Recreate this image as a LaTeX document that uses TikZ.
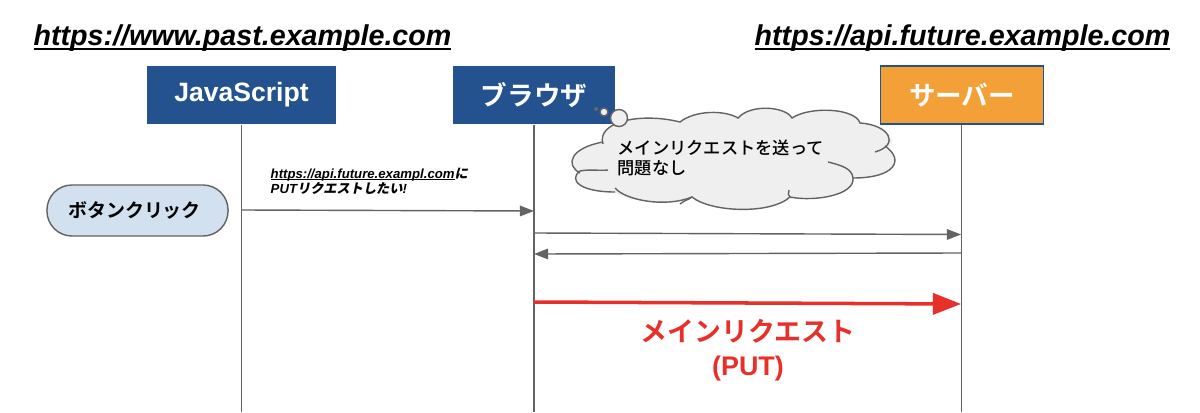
\documentclass[tikz,border=0pt]{standalone}
\usepackage{fontspec}
\setmainfont{Liberation Sans}
\newfontfamily\cjk[BoldFont={Noto Sans CJK JP Bold}]{Noto Sans CJK JP Medium}
\newfontfamily\cjkslant[FakeSlant=0.2]{Noto Sans CJK JP Bold}
\usetikzlibrary{arrows.meta}
\usetikzlibrary{positioning}
\definecolor{boxblue}{HTML}{23528F}
\definecolor{boxorange}{HTML}{F2A037}
\definecolor{pillblue}{HTML}{D2E0F0}
\definecolor{linegray}{HTML}{636363}
\definecolor{cloudgray}{HTML}{EFEFEF}
\definecolor{alertred}{HTML}{E8302A}
\newlength{\linkwidth}
\newcommand{\linktext}[1]{\leavevmode\settowidth{\linkwidth}{#1}\rlap{#1}\rule[-0.13em]{\linkwidth}{0.07em}}
\tikzset{actor/.style = {minimum height=0.58cm, minimum width=1.62cm, inner sep=0pt,
                         text=white, font=\fontsize{7.55}{10}\selectfont\bfseries},
         origin/.style = {inner sep=0pt, font=\fontsize{8.15}{9}\selectfont\bfseries\itshape},
         life/.style = {draw=linegray, line width=0.4pt},
         msg/.style = {draw=linegray, line width=0.4pt, -{Triangle[length=4pt,width=3pt]}},
         puff/.style = {draw=linegray, line width=0.4pt}}

\begin{document}
\begin{tikzpicture}[x=0.01cm, y=-0.01cm]
    \useasboundingbox (0, 0) rectangle (1200, 412);

    \node [origin] (pastorigin) at (242.5, 38.5) {\linktext{https://www.past.example.com}};
    \node [origin] (futureorigin) at (962.5, 38.5) {\linktext{https://api.future.example.com}};

    \node [actor, fill=boxblue, minimum width=1.89cm] (js) at (241.5, 95) {JavaScript};
    \node [actor, fill=boxblue] (browser) at (534, 95) {\cjk ブラウザ};
    \node [actor, fill=boxorange, draw=boxblue, line width=0.3pt] (server) at (962, 95) {\cjk サーバー};

    \coordinate (jsend) at (241.5, 412);
    \coordinate (browserend) at (534, 412);
    \coordinate (serverend) at (961.5, 412);
    \draw [life] (js.south) -- (jsend);
    \draw [life] (browser) -- (browserend);
    \draw [life] (server.south -| serverend) -- (serverend);

    % cloud
    \fill [cloudgray] (603, 142)
      .. controls (596, 122) and (640, 112) .. (680, 122)
      .. controls (695, 110) and (725, 110) .. (738, 118)
      .. controls (750, 104) and (785, 106) .. (792, 118)
      .. controls (810, 106) and (855, 108) .. (860, 123)
      .. controls (890, 125) and (900, 145) .. (885, 148)
      .. controls (905, 160) and (895, 178) .. (853, 178)
      .. controls (855, 195) and (815, 202) .. (790, 197)
      .. controls (770, 215) and (710, 212) .. (692, 197)
      .. controls (665, 208) and (625, 200) .. (615, 192)
      .. controls (580, 192) and (568, 180) .. (580, 173)
      .. controls (565, 165) and (570, 148) .. (603, 142) -- cycle;
    \draw [puff] (603, 144)
      .. controls (596, 122) and (640, 112) .. (680, 122)
      .. controls (695, 110) and (725, 110) .. (738, 118)
      .. controls (750, 104) and (785, 106) .. (792, 118)
      .. controls (810, 106) and (855, 108) .. (860, 123)
      .. controls (890, 125) and (900, 145) .. (875, 152);
    \draw [puff] (885, 146)
      .. controls (905, 160) and (895, 178) .. (853, 178)
      .. controls (852, 168) and (840, 165) .. (828, 162);
    \draw [puff] (853, 178)
      .. controls (855, 195) and (815, 202) .. (790, 197)
      .. controls (788, 196) and (788, 193) .. (789, 190);
    \draw [puff] (790, 197)
      .. controls (770, 215) and (710, 212) .. (692, 197)
      .. controls (688, 200) and (685, 200) .. (680, 204);
    \draw [puff] (692, 197)
      .. controls (665, 208) and (625, 200) .. (615, 188);
    \draw [puff] (615, 192)
      .. controls (580, 192) and (568, 180) .. (580, 171)
      .. controls (590, 169) and (600, 171) .. (608, 170);
    \draw [puff] (580, 173)
      .. controls (565, 165) and (570, 148) .. (603, 142);

    \foreach \cx/\cy/\cr in {619/118/8.5, 604/112/4, 596/109/1.5} {
      \draw [puff, fill=cloudgray] (\cx, \cy) circle [radius=\cr];
    }
    \node [inner sep=0pt, align=left, anchor=north west, font=\fontsize{4.9}{5.7}\selectfont\cjk] (cloudtext) at (617, 139) {メインリクエストを送って\\問題なし};

    \node [draw=linegray, fill=pillblue, rounded corners=0.25cm, line width=0.4pt, minimum width=1.81cm, minimum height=0.51cm, inner sep=0pt, font=\fontsize{5.4}{6}\selectfont\bfseries\cjk] (click) at (137.5, 210.5) {ボタンクリック\rule{1.7pt}{0pt}};

    \coordinate (a1) at (242, 210);
    \coordinate (b1) at (534, 211);
    \coordinate (b2) at (534, 233);
    \coordinate (s2) at (961, 234.5);
    \coordinate (s3) at (961, 253);
    \coordinate (b3) at (534, 254);
    \coordinate (b4) at (534, 302);
    \coordinate (s4) at (961, 304);
    \draw [msg] (a1) -- (b1);
    \draw [msg] (b2) -- (s2);
    \draw [msg] (s3) -- (b3);
    \draw [draw=alertred, line width=1pt, -{Triangle[length=8pt,width=6pt]}] (b4) -- (s4);

    \node [inner sep=0pt, align=left, anchor=north west, font=\fontsize{3.75}{4.3}\selectfont\bfseries\itshape] (wishtext) at (270, 167) {\linktext{https://api.future.exampl.com}{\cjkslant に}\\PUT{\cjkslant リクエストしたい}!};
    \node [inner sep=0pt, align=center, text=alertred, font=\fontsize{7.65}{9.6}\selectfont\bfseries] (maintext) at (748, 350) {{\cjk メインリクエスト}\\(PUT)};
  \end{tikzpicture}
\end{document}
